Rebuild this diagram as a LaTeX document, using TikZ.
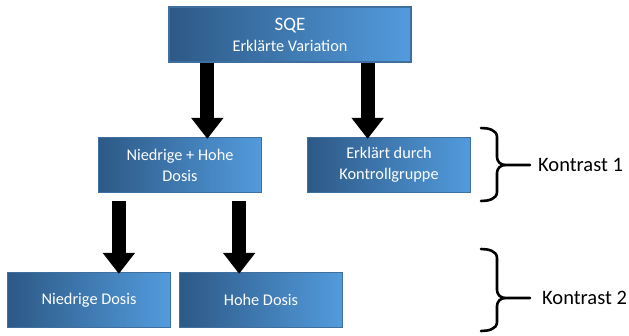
\documentclass[tikz,border=0pt]{standalone}
\usepackage{fontspec}
\setmainfont{Carlito}
\usetikzlibrary{arrows.meta,calc}
\definecolor{bdark}{HTML}{2D5986}
\definecolor{blight}{HTML}{529BDD}
\definecolor{bedge}{HTML}{3F6F9F}
\tikzset{
  box/.style={draw=bedge, line width=1.3pt, left color=bdark, right color=blight,
    minimum width=163pt, minimum height=55pt, inner sep=0pt, text=white,
    font=\fontsize{16.3}{21}\selectfont, align=center},
  bigarrow/.style={line width=14pt, -{Triangle[width=31pt,length=21pt]}},
  bracepath/.style={line width=2.6pt, line cap=round, line join=round},
  lbl/.style={font=\fontsize{20.5}{24}\selectfont, anchor=west, inner sep=0pt}
}
\begin{document}
\begin{tikzpicture}[x=1pt,y=-1pt]
\useasboundingbox (0,0) rectangle (629,335);
\node[box, minimum width=242pt, minimum height=55pt] (sqe) at (290,34.5) {\fontsize{19}{21}\selectfont SQE\\ \fontsize{16.3}{19}\selectfont Erklärte Variation};
\node[box] (nh) at (180,165) {Niedrige + Hohe\\ Dosis};
\node[box] (kg) at (389,165) {Erklärt durch\\ Kontrollgruppe};
\node[box] (nd) at (89,300) {Niedrige Dosis};
\node[box] (hd) at (261,300) {Hohe Dosis};
% arrows
\draw[bigarrow] ([xshift=39pt]sqe.south west) -- ([xshift=39pt,yshift=-2pt]sqe.south west |- nh.north);
\draw[bigarrow] ([xshift=-44pt]sqe.south east) -- ([xshift=-44pt,yshift=-2pt]sqe.south east |- kg.north);
\draw[bigarrow] ([xshift=21pt,yshift=-8pt]nh.south west) -- ([xshift=21pt,yshift=-2pt]nh.south west |- nd.north);
\draw[bigarrow] ([xshift=-23pt,yshift=-8pt]nh.south east) -- ([xshift=-23pt,yshift=-2pt]nh.south east |- hd.north);
% braces
\coordinate (b1) at (530,165);
\coordinate (b2) at (530,298);
\draw[bracepath] (481,128) to[out=0,in=90] (497,137) -- (497,157) to[out=-90,in=180] (505,165) -- (b1);
\draw[bracepath] (481,201) to[out=0,in=-90] (497,192) -- (497,173) to[out=90,in=180] (505,165);
\draw[bracepath] (481,249) to[out=0,in=90] (497,258) -- (497,290) to[out=-90,in=180] (505,298) -- (b2);
\draw[bracepath] (481,331) to[out=0,in=-90] (497,322) -- (497,306) to[out=90,in=180] (505,298);
\node[lbl] (k1) at (538,165) {Kontrast 1};
\node[lbl] (k2) at (542,298) {Kontrast 2};
\end{tikzpicture}
\end{document}
